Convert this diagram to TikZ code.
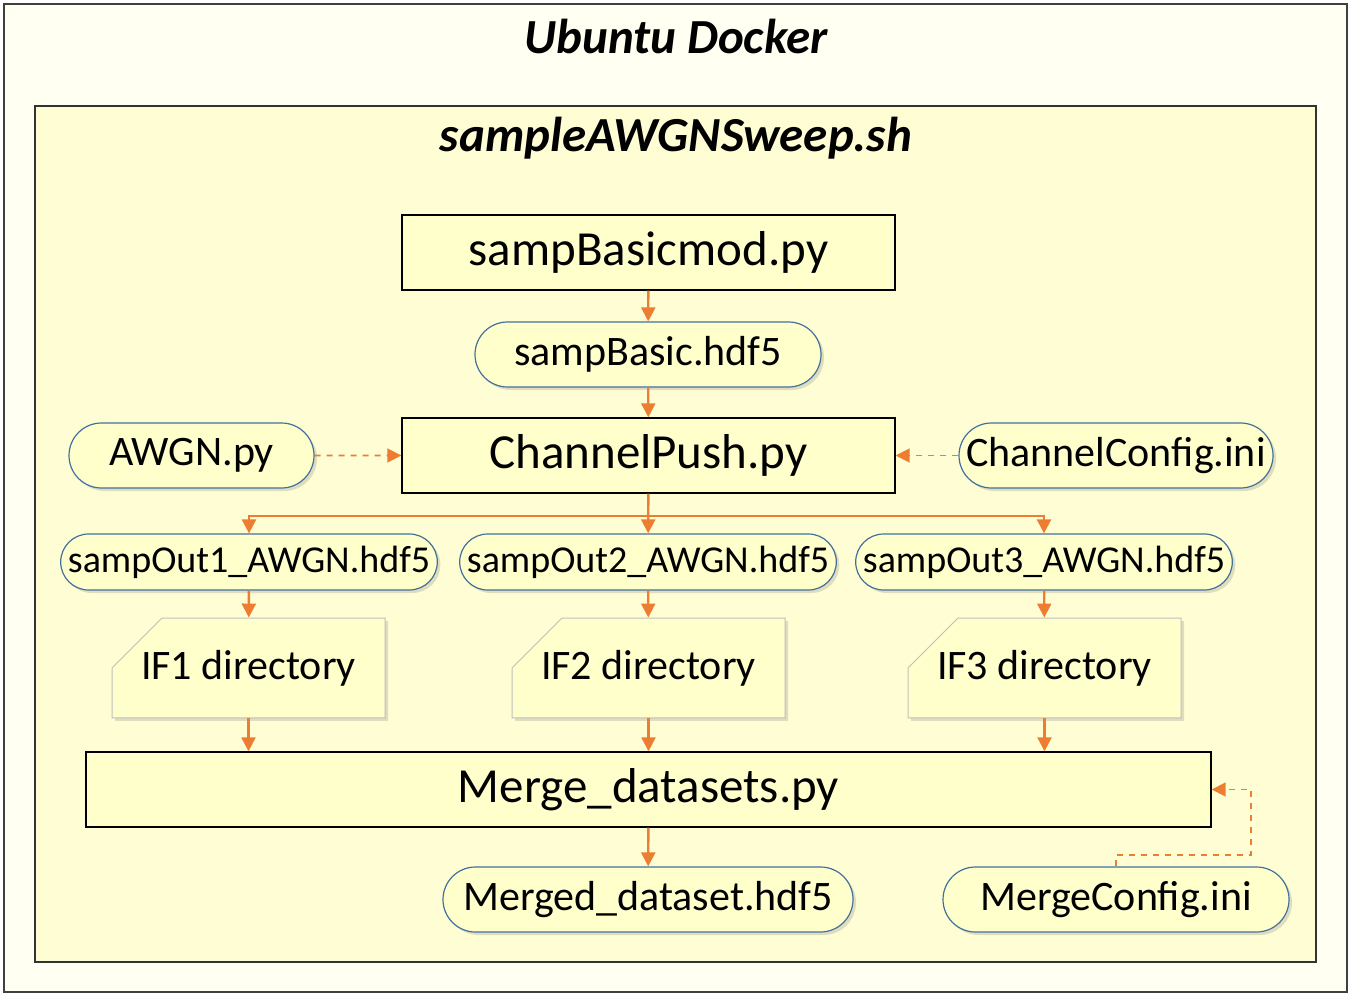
\documentclass[tikz,border=0pt]{standalone}
\usepackage{fontspec}
\setmainfont{Carlito}
\usetikzlibrary{shapes.misc,arrows.meta,shadows}

\definecolor{arrowc}{HTML}{ED7D31}
\definecolor{pillc}{HTML}{41719C}
\definecolor{boxfill}{HTML}{FFFFCC}
\definecolor{innerfill}{HTML}{FFFDD4}
\definecolor{outerfill}{HTML}{FFFFF2}

\tikzset{
  script/.style={draw=black, line width=0.7pt, fill=boxfill, inner sep=1pt,
    minimum height=37.5pt, font=\fontsize{24.5}{28}\selectfont},
  datafile/.style={rounded rectangle, draw=pillc, line width=0.6pt, fill=boxfill,
    inner sep=1pt, minimum height=32.5pt, font=\fontsize{21}{24}\selectfont,
    drop shadow={opacity=0.25, shadow xshift=1.5pt, shadow yshift=-1.5pt}},
  outfile/.style={datafile, minimum height=28pt, font=\fontsize{19}{22}\selectfont},
  folder/.style={chamfered rectangle, chamfered rectangle corners=north west,
    chamfered rectangle sep=15pt, draw=black!25, line width=0.5pt, fill=boxfill,
    inner sep=1pt, minimum width=136.5pt, minimum height=47pt,
    font=\fontsize{21}{24}\selectfont,
    drop shadow={opacity=0.25, shadow xshift=1.5pt, shadow yshift=-1.5pt}},
  flow/.style={draw=arrowc, line width=1.2pt, -{Triangle[length=7pt,width=7pt]}},
  cfgflow/.style={draw=arrowc, line width=0.9pt, dashed, -{Triangle[length=7pt,width=7pt]}},
  heading/.style={font=\fontsize{24.5}{28}\selectfont\bfseries\itshape}
}

\begin{document}
\begin{tikzpicture}[x=0.5pt, y=-0.5pt]
    \useasboundingbox (0,0) rectangle (1364,994);
    % containers
    \draw[draw=black!75, line width=1pt, fill=outerfill] (4,4) rectangle (1347,992);
    \draw[draw=black!80, line width=0.8pt, fill=innerfill] (35,106) rectangle (1316,962);
    \node[heading] (docker) at (676,36) {Ubuntu Docker};
    \node[heading] (sweep) at (676,138) {sampleAWGNSweep.sh};

    % scripts and files
    \node[script, minimum width=246.5pt] (basicmod) at (648.5,252.5) {sampBasicmod.py};
    \node[datafile, minimum width=175pt] (basic) at (648,354.5) {sampBasic.hdf5};
    \node[script, minimum width=246.5pt] (push) at (648.5,455.5) {ChannelPush.py};
    \node[datafile, minimum width=124.5pt] (awgn) at (191.5,455.5) {AWGN.py};
    \node[datafile, minimum width=159pt] (chcfg) at (1116,455.5) {ChannelConfig.ini};

    \node[outfile, minimum width=187pt] (out1) at (249,562) {sampOut1\_AWGN.hdf5};
    \node[outfile, minimum width=187pt] (out2) at (648,562) {sampOut2\_AWGN.hdf5};
    \node[outfile, minimum width=186pt] (out3) at (1044,562) {sampOut3\_AWGN.hdf5};

    \node[folder] (if1) at (248.5,668) {IF1 directory};
    \node[folder] (if2) at (648.5,668) {IF2 directory};
    \node[folder] (if3) at (1044.5,668) {IF3 directory};

    \node[script, minimum width=562.5pt] (merge) at (648.5,789.5) {Merge\_datasets.py};
    \node[datafile, minimum width=207pt] (merged) at (648,899.5) {Merged\_dataset.hdf5};
    \node[datafile, minimum width=175pt] (mcfg) at (1116,899.5) {MergeConfig.ini};

    \coordinate (split) at (648,516);
    \coordinate (bend) at (1251,855);

    % connectors
    \draw[flow] (basicmod) -- (basic);
    \draw[flow] (basic) -- (push);
    \draw[cfgflow] (awgn) -- (push);
    \draw[cfgflow] (chcfg) -- (push);
    \draw[flow] (push) -- (out2);
    \draw[flow] (split) -| (out1.north);
    \draw[flow] (split) -| (out3.north);
    \draw[flow] (out1) -- (if1);
    \draw[flow] (out2) -- (if2);
    \draw[flow] (out3) -- (if3);
    \draw[flow] (if1.south) -- (if1.south |- merge.north);
    \draw[flow] (if2.south) -- (if2.south |- merge.north);
    \draw[flow] (if3.south) -- (if3.south |- merge.north);
    \draw[flow] (merge) -- (merged);
    \draw[cfgflow] (mcfg.north) |- (bend) |- (merge.east);
\end{tikzpicture}
\end{document}
